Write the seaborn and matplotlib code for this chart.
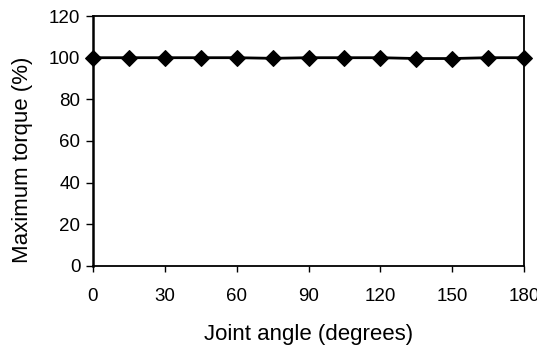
import matplotlib
matplotlib.use("Agg")
import matplotlib.pyplot as plt
import seaborn as sns
import pandas as pd

# dados
angulos = [0, 15, 30, 45, 60, 75, 90, 105, 120, 135, 150, 165, 180]
torque = [100, 100, 100, 100, 100, 99.7, 100, 100, 100, 99.6, 99.6, 100, 100]
xticks = [0, 30, 60, 90, 120, 150, 180]
yticks = [0, 20, 40, 60, 80, 100, 120]

dados = pd.DataFrame({"angulo": angulos, "torque": torque})

sns.set_style("ticks")
plt.rcParams["font.family"] = ["Liberation Sans", "DejaVu Sans"]
plt.rcParams["text.color"] = "black"
plt.rcParams["axes.labelcolor"] = "black"

fig = plt.figure(figsize=(5.37, 3.49), dpi=100)
ax = fig.add_axes([0.173, 0.238, 0.803, 0.716])
sns.lineplot(x="angulo", y="torque", data=dados, color="black", linewidth=2,
             marker="D", markersize=8, markeredgecolor="black", ax=ax)

ax.set_xlim(0, 180)
ax.set_ylim(0, 120)
ax.set_xticks(xticks)
ax.set_yticks(yticks)
for s in ax.spines.values():
    s.set_linewidth(1.3)
    s.set_color("black")
ax.spines["left"].set_linewidth(1.8)
ax.tick_params(axis="y", direction="out", length=5, width=1, labelsize=13.5, colors="black", pad=4)
ax.tick_params(axis="x", direction="out", length=4, width=1, labelsize=13.5, colors="black", pad=12)
ax.set_xlabel("Joint angle (degrees)", fontsize=16)
ax.set_ylabel("Maximum torque (%)", fontsize=16)
# posicao dos titulos dos eixos
ax.xaxis.set_label_coords(0.501, -0.234)
ax.yaxis.set_label_coords(-0.139, 0.424)
for m in ax.lines:
    m.set_clip_on(False)

fig.savefig("out.png", dpi=100)
